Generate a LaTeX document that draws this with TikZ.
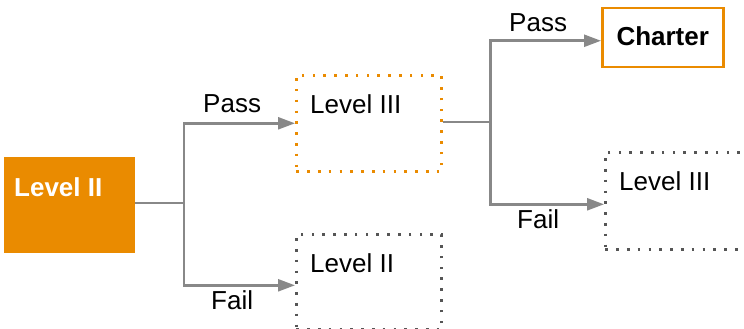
\documentclass[tikz,border=0pt]{standalone}
\usepackage{fontspec}
\setmainfont{Liberation Sans}
\usetikzlibrary{arrows.meta}
\definecolor{org}{RGB}{234,139,0}
\definecolor{lng}{RGB}{136,136,136}
\definecolor{dotg}{RGB}{85,85,85}
\begin{document}
\begin{tikzpicture}[x=1pt,y=-1pt,
  txt/.style={inner sep=0pt,font=\fontsize{26}{31}\selectfont},
  btxt/.style={txt,font=\fontsize{26}{31}\selectfont\bfseries},
  boxbase/.style={inner sep=0pt,anchor=north west},
  dotbox/.style={boxbase,line width=2.6pt,dash pattern=on 2.6pt off 8.2pt},
  conn/.style={draw=lng,line width=2.5pt},
  arr/.style={conn,-{Triangle[length=17pt,width=12pt]}}]
\useasboundingbox (0,0) rectangle (744,329);
% boxes
\node[boxbase,fill=org,minimum width=131pt,minimum height=96pt] (l2) at (4,157) {};
\node[dotbox,draw=org,minimum width=145pt,minimum height=96pt] (l3a) at (295,74) {};
\node[dotbox,draw=dotg,minimum width=145pt,minimum height=95pt] (l2b) at (295,233) {};
\node[dotbox,draw=dotg,minimum width=143pt,minimum height=97pt] (l3b) at (604,151) {};
\node[boxbase,draw=org,line width=2.5pt,minimum width=121pt,minimum height=59pt] (ch) at (601,7) {};
% texts
\node[btxt,text=white,anchor=base west] (tl2) at (14,196) {Level II};
\node[txt,anchor=base west] (tl3a) at (310,113) {Level III};
\node[txt,anchor=base west] (tl2b) at (310,272) {Level II};
\node[txt,anchor=base west] (tl3b) at (619,190) {Level III};
\node[btxt,anchor=base] (tch) at (ch.center |- 0,46) {Charter};
% labels
\node[txt,anchor=base west] (pass1) at (203,112) {Pass};
\node[txt,anchor=base west] (fail1) at (211,309) {Fail};
\node[txt,anchor=base west] (pass2) at (509,32) {Pass};
\node[txt,anchor=base west] (fail2) at (517,228) {Fail};
% connectors
\coordinate (j1) at (184,203);
\coordinate (j2) at (490.5,122);
\draw[conn] (l2.east |- j1) -- (j1);
\draw[arr] (j1) |- (l3a.west);
\draw[arr] (j1) |- ([yshift=-3.5pt]l2b.west);
\draw[conn] (l3a.east |- j2) -- (j2);
\draw[arr] (j2) |- ([yshift=-3pt]ch.west);
\draw[arr] (j2) |- ([yshift=-3.5pt]l3b.west);
\end{tikzpicture}
\end{document}
